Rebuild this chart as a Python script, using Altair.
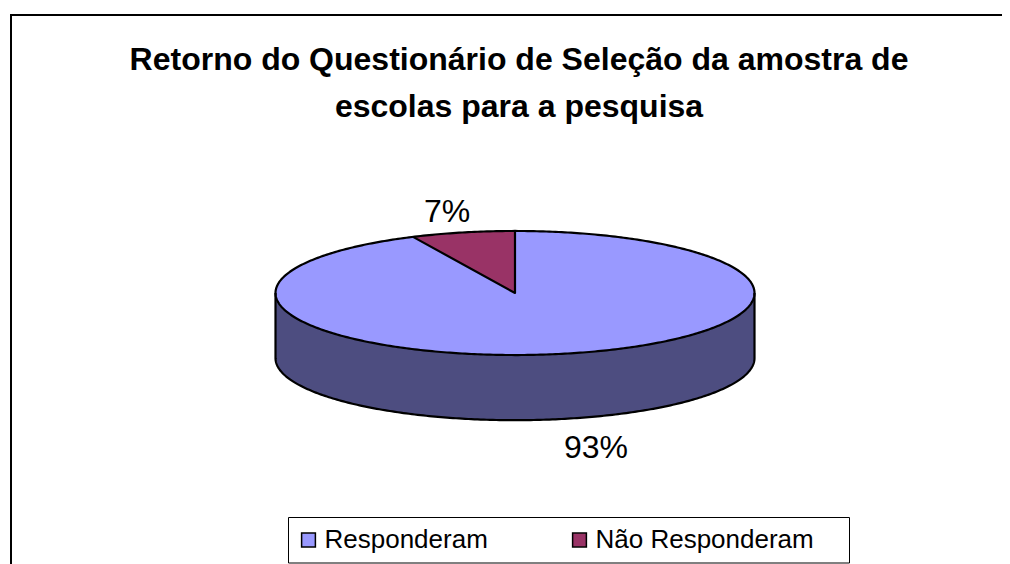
import numpy as np
import pandas as pd
import altair as alt

# --- content ---
title_lines = ["Retorno do Questionário de Seleção da amostra de",
               "escolas para a pesquisa"]
categories = ["Responderam", "Não Responderam"]
values = [93, 7]
colors = ["#9999FF", "#993366"]
wall_color = "#4D4D80"
label_reach_x = [1.55, 1.30]
label_reach_y = [1.48, 1.33]

# --- drawing set-up: pie coordinates are in units of the pie radius ---
W, H = 994, 556
RADIUS_PX, CX, CY = 239.5, 507, 285
TILT, DEPTH = 0.259, 0.272
x_scale = alt.Scale(domain=[-CX / RADIUS_PX, (W - CX) / RADIUS_PX], nice=False, zero=False)
y_scale = alt.Scale(domain=[-(H - CY) / RADIUS_PX, CY / RADIUS_PX], nice=False, zero=False)
X = alt.X("x:Q", scale=x_scale, axis=None)
Y = alt.Y("y:Q", scale=y_scale, axis=None)

# the small slice runs anticlockwise from 12 o'clock
small_angle = 2 * np.pi * values[1] / sum(values)
tip = (-np.sin(small_angle), TILT * np.cos(small_angle))

t = np.linspace(0, np.pi, 241)
top_rows = pd.DataFrame({"slice": categories[0], "x": np.cos(t),
                         "y": TILT * np.sin(t), "y2": -TILT * np.sin(t)})
a = np.linspace(0, small_angle, 40)
wedge_rows = pd.DataFrame({"slice": categories[1], "x": -np.sin(a),
                           "y": TILT * np.cos(a),
                           "y2": TILT * np.cos(small_angle) * np.sin(a) / np.sin(small_angle)})
faces = pd.concat([top_rows, wedge_rows], ignore_index=True)

wall = pd.DataFrame({"x": np.cos(t), "y": -TILT * np.sin(t), "y2": -TILT * np.sin(t) - DEPTH})

# outlines
rim_t = np.linspace(0, 2 * np.pi, 481)
rim = pd.DataFrame({"part": "rim", "x": np.cos(rim_t), "y": TILT * np.sin(rim_t)})
spokes = pd.DataFrame({"part": "spokes", "x": [0, 0, tip[0]], "y": [TILT, 0, tip[1]]})
base = pd.DataFrame({"part": "base",
                     "x": np.r_[-1, -np.cos(t), 1],
                     "y": np.r_[0, -TILT * np.sin(t) - DEPTH, 0]})
edges = pd.concat([rim, spokes, base], ignore_index=True)
edges["i"] = np.arange(len(edges))

# percentage labels, placed outward from each slice's mid angle
mid = [small_angle + (2 * np.pi - small_angle) / 2, small_angle / 2]
labels = pd.DataFrame({
    "text": [f"{v}%" for v in values],
    "x": [-np.sin(m) * r for m, r in zip(mid, label_reach_x)],
    "y": [TILT * np.cos(mid[0]) * label_reach_y[0] - DEPTH, TILT * np.cos(mid[1]) * label_reach_y[1]],
})

legend = alt.Legend(title=None, orient="none", legendX=287.5, legendY=519, columns=2,
                    symbolType="square", symbolSize=190, symbolStrokeColor="black",
                    symbolStrokeWidth=1.5, labelFont="Liberation Sans", labelFontSize=26,
                    labelColor="black", columnPadding=78, labelOffset=3, padding=0,
                    labelLimit=300, symbolOpacity=1, zindex=1)

wall_layer = alt.Chart(wall).mark_area(color=wall_color).encode(x=X, y=Y, y2="y2:Q")
face_layer = alt.Chart(faces).mark_area(opacity=1).encode(
    x=X, y=Y, y2="y2:Q",
    color=alt.Color("slice:N", sort=categories,
                    scale=alt.Scale(domain=categories, range=colors), legend=legend),
)
edge_layer = alt.Chart(edges).mark_line(color="black", strokeWidth=2.2, strokeJoin="round").encode(
    x=X, y=Y, detail="part:N", order="i:Q")
text_layer = alt.Chart(labels).mark_text(font="Liberation Sans", fontSize=32, color="black").encode(
    x=X, y=Y, text="text:N")

frame_left = alt.Chart().mark_rule(color="black", strokeWidth=2).encode(
    x=alt.value(3), y=alt.value(7), y2=alt.value(H))
frame_top = alt.Chart().mark_rule(color="black", strokeWidth=2).encode(
    x=alt.value(2), x2=alt.value(W), y=alt.value(7))
legend_box = alt.Chart().mark_rect(filled=False, stroke="black", strokeWidth=1).encode(
    x=alt.value(280.5), x2=alt.value(841.5), y=alt.value(509.5), y2=alt.value(555))

chart = alt.layer(frame_left, frame_top, wall_layer, face_layer, edge_layer, text_layer, legend_box).properties(
    width=W, height=H, padding=0,
    autosize=alt.AutoSizeParams(type="none"),
    background="white",
    title=alt.TitleParams(text=title_lines, font="Liberation Sans", fontSize=32, fontWeight="bold",
                          color="black", anchor="middle", frame="group", dx=14, offset=-116,
                          lineHeight=47),
).configure_view(stroke=None)

chart.save("out.html", embed_options={"renderer": "svg", "actions": False})
